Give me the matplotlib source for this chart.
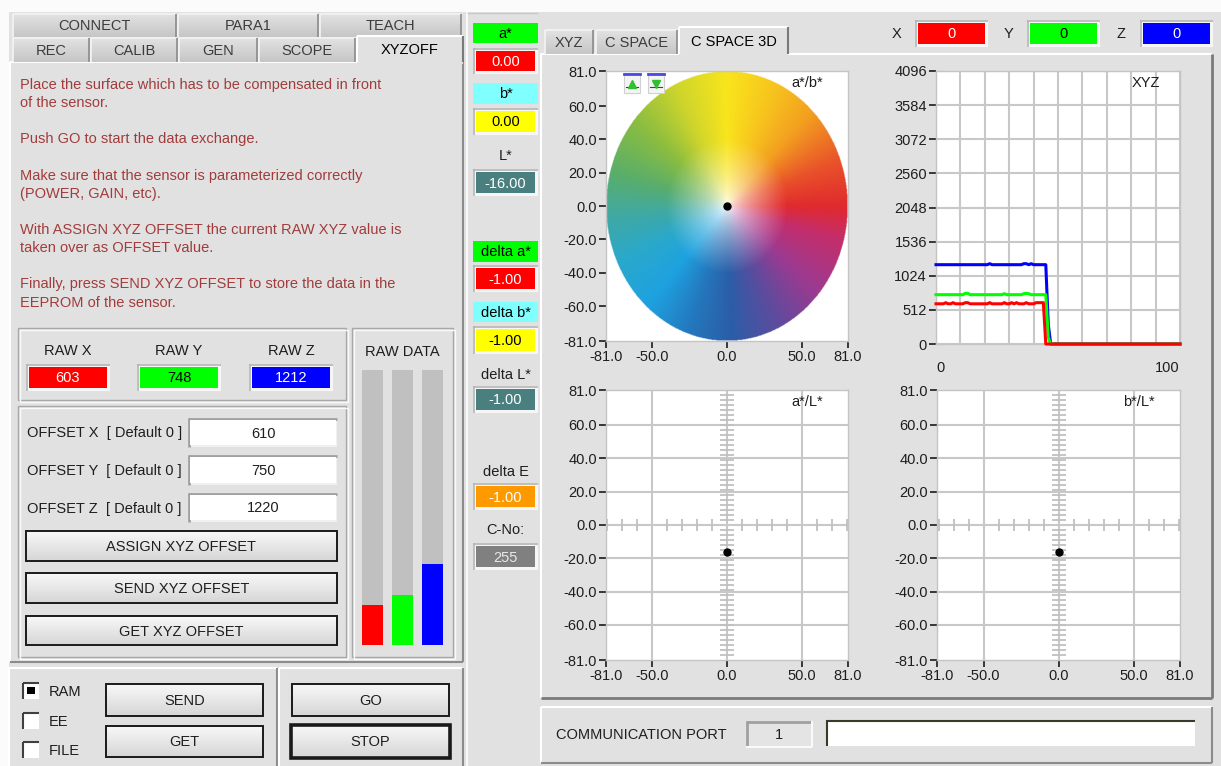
import numpy as np
import matplotlib
matplotlib.use('Agg')
import matplotlib.pyplot as plt
from matplotlib.patches import Rectangle

plt.rcParams['font.family'] = ['Liberation Sans', 'DejaVu Sans']

W, H = 1221, 766
BG = '#e1e1e1'
TXT = '#1e1e1e'
FS = 10.5

# ---- values shown in the window ----
intro_lines = ["Place the surface which has to be compensated in front",
               "of the sensor.",
               "Push GO to start the data exchange.",
               "Make sure that the sensor is parameterized correctly",
               "(POWER, GAIN, etc).",
               "With ASSIGN XYZ OFFSET the current RAW XYZ value is",
               "taken over as OFFSET value.",
               "Finally, press SEND XYZ OFFSET to store the data in the",
               "EEPROM of the sensor."]
raw_labels = ['RAW X', 'RAW Y', 'RAW Z']
raw_values = [603, 748, 1212]
raw_colors = ['#ff0000', '#00ff00', '#0000ff']
offset_labels = ['OFFSET X  [ Default 0 ]', 'OFFSET Y  [ Default 0 ]', 'OFFSET Z  [ Default 0 ]']
offset_values = [610, 750, 1220]
offset_buttons = ['ASSIGN XYZ OFFSET', 'SEND XYZ OFFSET', 'GET XYZ OFFSET']
mem_options = ['RAM', 'EE', 'FILE']
mem_checked = [True, False, False]
tabs_row1 = ['CONNECT', 'PARA1', 'TEACH']
tabs_row2 = ['REC', 'CALIB', 'GEN', 'SCOPE', 'XYZOFF']
plot_tabs = ['XYZ', 'C SPACE', 'C SPACE 3D']

lab_names = ['a*', 'b*', 'L*']
lab_values = [0.00, 0.00, -16.00]
delta_names = ['delta a*', 'delta b*', 'delta L*', 'delta E']
delta_values = [-1.00, -1.00, -1.00, -1.00]
c_no = 255
xyz_names = ['X', 'Y', 'Z']
xyz_now = [0, 0, 0]
comm_port = 1

# XYZ history, samples 0..100
hist_x = [603, 603, 603, 603, 620, 603, 603, 620, 603, 603, 603, 603, 620, 620, 603, 603, 603, 603, 603, 603,
          603, 603, 620, 603, 603, 603, 603, 603, 620, 603, 603, 620, 603, 620, 603, 603, 603, 620, 603, 603,
          603, 620, 620, 620, 620, 0, 0, 0, 0, 0, 0, 0, 0, 0, 0, 0, 0, 0, 0, 0,
          0, 0, 0, 0, 0, 0, 0, 0, 0, 0, 0, 0, 0, 0, 0, 0, 0, 0, 0, 0,
          0, 0, 0, 0, 0, 0, 0, 0, 0, 0, 0, 0, 0, 0, 0, 0, 0, 0, 0, 0, 0]
hist_y = [740, 740, 740, 740, 740, 740, 740, 740, 740, 740, 740, 740, 760, 760, 740, 740, 740, 740, 740, 740,
          740, 740, 740, 740, 740, 740, 740, 740, 755, 740, 740, 740, 740, 740, 740, 740, 755, 760, 755, 740,
          740, 740, 740, 740, 740, 740, 100, 0, 0, 0, 0, 0, 0, 0, 0, 0, 0, 0, 0, 0,
          0, 0, 0, 0, 0, 0, 0, 0, 0, 0, 0, 0, 0, 0, 0, 0, 0, 0, 0, 0,
          0, 0, 0, 0, 0, 0, 0, 0, 0, 0, 0, 0, 0, 0, 0, 0, 0, 0, 0, 0, 0]
hist_z = [1190, 1190, 1190, 1190, 1190, 1190, 1190, 1190, 1190, 1190, 1190, 1190, 1190, 1190, 1190, 1190, 1190, 1190, 1190, 1190,
          1190, 1190, 1205, 1190, 1190, 1190, 1190, 1190, 1190, 1190, 1190, 1190, 1190, 1190, 1190, 1190, 1205, 1205, 1190, 1205,
          1190, 1190, 1190, 1190, 1190, 1190, 300, 0, 0, 0, 0, 0, 0, 0, 0, 0, 0, 0, 0, 0,
          0, 0, 0, 0, 0, 0, 0, 0, 0, 0, 0, 0, 0, 0, 0, 0, 0, 0, 0, 0,
          0, 0, 0, 0, 0, 0, 0, 0, 0, 0, 0, 0, 0, 0, 0, 0, 0, 0, 0, 0, 0]

# current points in the colour planes
pt_ab = (0.0, 0.0)
pt_aL = (0.0, -16.0)
pt_bL = (0.0, -16.0)

fig = plt.figure(figsize=(W / 100, H / 100), dpi=100)
fig.patch.set_facecolor(BG)
ui = fig.add_axes([0, 0, 1, 1])
ui.set_axis_off()


def box(x0, y0, x1, y1, fc, ec='none', lw=1.0, z=1):
    ui.add_patch(Rectangle((x0, y0), x1 - x0, y1 - y0, facecolor=fc, edgecolor=ec, lw=lw, zorder=z))


def hl(x0, x1, y, c, lw=1.0, z=2):
    ui.plot([x0, x1], [y, y], color=c, lw=lw, zorder=z, solid_capstyle='butt')


def vl(x, y0, y1, c, lw=1.0, z=2):
    ui.plot([x, x], [y0, y1], color=c, lw=lw, zorder=z, solid_capstyle='butt')


def txt(x, y, s, ha='center', c=TXT, fs=FS, z=5):
    ui.text(x, y, s, ha=ha, va='center', color=c, fontsize=fs, zorder=z)


def raised(x0, y0, x1, y1, fc=BG):
    box(x0, y0, x1, y1, fc)
    hl(x0, x1, y0, '#ffffff', 1.5)
    vl(x0, y0, y1, '#ffffff', 1.5)
    hl(x0, x1, y1, '#8c8c8c', 1.5)
    vl(x1, y0, y1, '#8c8c8c', 1.5)


def etched(x0, y0, x1, y1):
    ui.add_patch(Rectangle((x0, y0), x1 - x0, y1 - y0, facecolor='none', edgecolor='#a8a8a8', lw=1, zorder=2))
    ui.add_patch(Rectangle((x0 + 1.5, y0 + 1.5), x1 - x0, y1 - y0, facecolor='none', edgecolor='#fafafa', lw=1, zorder=2))


def gradient(x0, y0, x1, y1, top, bottom, z=2):
    t = np.array(matplotlib.colors.to_rgb(top))
    b = np.array(matplotlib.colors.to_rgb(bottom))
    f = np.linspace(0, 1, 32)[:, None, None]
    img = t * (1 - f) + b * f
    ui.imshow(img.reshape(32, 1, 3), extent=[x0, x1, y1, y0], aspect='auto', zorder=z, interpolation='bilinear')


def button(x0, y0, x1, y1, label, lw=1.4):
    gradient(x0, y0, x1, y1, '#f8f8f8', '#d6d6d6')
    ui.add_patch(Rectangle((x0, y0), x1 - x0, y1 - y0, facecolor='none', edgecolor='#1a1a1a', lw=lw, zorder=3))
    txt((x0 + x1) / 2, (y0 + y1) / 2 + 1, label)


def display(x0, y0, x1, y1, fc, s, tc):
    box(x0 - 3, y0 - 3, x1 + 3, y1 + 3, '#f6f6f6', z=2)
    hl(x0 - 3, x1 + 3, y0 - 2.5, '#b4b4b4', 1.2, z=2)
    vl(x0 - 2.5, y0 - 3, y1 + 3, '#b4b4b4', 1.2, z=2)
    box(x0, y0, x1, y1, fc, z=3)
    txt((x0 + x1) / 2, (y0 + y1) / 2 + 1, s, c=tc)


def tab(x0, y0, x1, y1, label, selected):
    if selected:
        box(x0, y0, x1, y1 + 2, BG, z=3)
        hl(x0, x1, y0, '#ffffff', 1.5, z=4)
        vl(x0, y0, y1, '#ffffff', 1.5, z=4)
        vl(x1, y0, y1, '#7a7a7a', 1.5, z=4)
        txt((x0 + x1) / 2, (y0 + y1) / 2 + 1, label, c='#000000', z=5)
    else:
        gradient(x0, y0, x1, y1, '#e2e2e2', '#c6c6c6', z=2)
        hl(x0, x1, y0, '#f4f4f4', 1.2, z=3)
        vl(x0, y0, y1, '#f4f4f4', 1.2, z=3)
        vl(x1, y0, y1, '#8a8a8a', 1.2, z=3)
        txt((x0 + x1) / 2, (y0 + y1) / 2 + 1, label, c='#3c3c3c', z=5)


# white margin on top / left
box(0, 0, W, 12, '#fbfbfb', z=0)
box(0, 0, 9, H, '#fbfbfb', z=0)

# ---------------- left tab control ----------------
raised(10, 62, 463, 662)
row1 = [(13, 176), (178, 318), (320, 461)]
for (a, b), name in zip(row1, tabs_row1):
    tab(a, 14, b, 37, name, False)
row2 = [(13, 89), (91, 177), (179, 257), (259, 355), (357, 463)]
for (a, b), name in zip(row2, tabs_row2):
    if name == 'XYZOFF':
        tab(a, 36, b, 62, name, True)
    else:
        tab(a, 38, b, 62, name, False)

intro_y = [85, 103, 139, 176, 194, 230, 248, 284, 303]
for s, y in zip(intro_lines, intro_y):
    txt(20, y, s, ha='left', c='#a23c3c')

# RAW group
etched(18, 328, 346, 400)
raw_x = [(29, 107), (140, 218), (252, 330)]
for (a, b), lab, v, col in zip(raw_x, raw_labels, raw_values, raw_colors):
    txt((a + b) / 2, 351, lab)
    display(a, 367, b, 388, col, str(v), '#000000' if col == '#00ff00' else '#ffffff')

# OFFSET group
etched(18, 406, 346, 657)
off_y = [(420, 445), (457, 483), (495, 520)]
for (a, b), lab, v in zip(off_y, offset_labels, offset_values):
    txt(27, (a + b) / 2 + 1, lab, ha='left')
    box(188, a - 2, 337, b + 2, '#f0f0f0', z=2)
    hl(188, 337, a - 1.5, '#a0a0a0', 2, z=2)
    vl(188.5, a - 2, b + 2, '#a0a0a0', 2, z=2)
    box(190, a, 336, b, '#ffffff', z=3)
    txt(263, (a + b) / 2 + 1, str(v))
btn_y = [(531, 561), (573, 603), (616, 645)]
for (a, b), lab in zip(btn_y, offset_buttons):
    button(26, a, 337, b, lab)

# RAW DATA group with level bars
etched(352, 328, 453, 657)
txt(402, 352, 'RAW DATA')
bx = fig.add_axes([357 / W, 1 - 645 / H, 91 / W, 275 / H])
bx.set_axis_off()
bx.bar(range(3), [4096] * 3, width=0.69, color='#c0c0c0')
bx.bar(range(3), raw_values, width=0.69, color=raw_colors)
bx.set_xlim(-0.5, 2.5)
bx.set_ylim(0, 4096)

# bottom left panels
raised(9, 668, 277, 770)
raised(279, 668, 463, 770)
chk_y = [683, 713, 742]
for y, lab, on in zip(chk_y, mem_options, mem_checked):
    box(23, y, 39, y + 16, '#ffffff', z=2)
    hl(23, 39, y, '#404040', 1.5, z=3)
    vl(23, y, y + 16, '#404040', 1.5, z=3)
    if on:
        box(27, y + 4, 35, y + 11, '#000000', z=4)
    txt(49, y + 9, lab, ha='left')
button(106, 684, 263, 716, 'SEND')
button(106, 726, 263, 757, 'GET')
button(292, 684, 449, 716, 'GO')
button(291, 725, 450, 758, 'STOP', lw=2.6)

# ---------------- middle column ----------------
vl(467, 12, H, '#ffffff', 1.2)
hl(467, 538, 12.5, '#c8c8c8', 1)


def label_box(y0, y1, s, fc):
    box(473, y0, 538, y1, fc, z=2)
    txt(505.5, (y0 + y1) / 2 + 1, s, c='#000000')


label_box(23, 43, lab_names[0], '#00ff00')
display(476, 51, 535, 71, '#ff0000', '%.2f' % lab_values[0], '#ffffff')
label_box(83, 104, lab_names[1], '#80ffff')
display(476, 111, 535, 132, '#ffff00', '%.2f' % lab_values[1], '#000000')
txt(505.5, 156, lab_names[2])
display(476, 172, 535, 193, '#4a7f7f', '%.2f' % lab_values[2], '#ffffff')

label_box(241, 262, delta_names[0], '#00ff00')
display(476, 268, 535, 289, '#ff0000', '%.2f' % delta_values[0], '#ffffff')
label_box(302, 322, delta_names[1], '#80ffff')
display(476, 329, 535, 351, '#ffff00', '%.2f' % delta_values[1], '#000000')
txt(505.5, 375, delta_names[2])
display(476, 389, 535, 410, '#4a7f7f', '%.2f' % delta_values[2], '#ffffff')
txt(505.5, 472, delta_names[3])
display(476, 486, 535, 507, '#ff9900', '%.2f' % delta_values[3], '#ffffff')
txt(505.5, 530, 'C-No:')
display(476, 546, 535, 567, '#808080', str(c_no), '#e8e8e8')

# ---------------- right panel ----------------
box(541, 54, 1212, 698, BG)
hl(541, 1212, 54, '#ffffff', 1.5)
vl(541, 54, 698, '#ffffff', 1.5)
vl(1212, 54, 698, '#7a7a7a', 2)
hl(541, 1212, 698, '#7a7a7a', 2)
ptab = [(545, 593), (596, 677), (679, 788)]
for (a, b), name in zip(ptab, plot_tabs):
    if name == 'C SPACE 3D':
        tab(a, 27, b, 54, name, True)
    else:
        tab(a, 30, b, 54, name, False)

xyz_lx = [897, 1009, 1121]
xyz_bx = [(918, 985), (1030, 1097), (1143, 1210)]
for lx, (a, b), name, v, col in zip(xyz_lx, xyz_bx, xyz_names, xyz_now, raw_colors):
    txt(lx, 34, name)
    display(a, 23, b, 44, col, str(v), '#000000' if col == '#00ff00' else '#ffffff')

# communication port
raised(541, 707, 1212, 763)
txt(556, 735, 'COMMUNICATION PORT', ha='left')
box(746, 721, 812, 747, '#e4e4e4', z=2)
hl(746, 812, 721.5, '#a0a0a0', 2, z=3)
vl(746.5, 721, 747, '#a0a0a0', 2, z=3)
hl(746, 812, 746.5, '#fafafa', 1.5, z=3)
vl(811.5, 721, 747, '#fafafa', 1.5, z=3)
txt(779, 735, str(comm_port))
box(826, 720, 1195, 746, '#ffffff', z=2)
hl(826, 1195, 720.5, '#3a3a2a', 1.5, z=3)
vl(826.5, 720, 746, '#3a3a2a', 1.5, z=3)

ui.set_xlim(0, W)
ui.set_ylim(H, 0)


# ---------------- plots ----------------
def plot_axes(x0, y0, x1, y1):
    ax = fig.add_axes([x0 / W, 1 - y1 / H, (x1 - x0) / W, (y1 - y0) / H])
    ax.set_facecolor('white')
    for s in ax.spines.values():
        s.set_color('#c4c4c4')
        s.set_linewidth(1)
    ax.tick_params(direction='out', length=5, width=1.3, color='#2a2a2a',
                   labelsize=FS, labelcolor=TXT, pad=1.5)
    return ax


ab_ticks = [-81, -50, 0, 50, 81]
ab_yticks = [81, 60, 40, 20, 0, -20, -40, -60, -81]


def lab_plane(ax, title, pt, grid=True):
    ax.set_xlim(-81, 81)
    ax.set_ylim(-81, 81)
    ax.set_xticks(ab_ticks)
    ax.set_xticklabels(['%.1f' % t for t in ab_ticks])
    ax.set_yticks(ab_yticks)
    ax.set_yticklabels(['%.1f' % t for t in ab_yticks])
    if grid:
        for t in ab_ticks[1:-1]:
            ax.axvline(t, color='#c8c8c8', lw=1.5, zorder=1)
        for t in ab_yticks[1:-1]:
            ax.axhline(t, color='#c8c8c8', lw=1.5, zorder=1)
        minor_x = [t for t in range(-80, 81, 10) if t not in (-50, 0, 50)]
        ax.plot(minor_x, [0] * len(minor_x), ls='none', marker='|', ms=9, mew=1.3, color='#c0c0c0', zorder=2)
        minor_y = [t for t in np.arange(-78, 79, 3) if t != 0]
        ax.plot([0] * len(minor_y), minor_y, ls='none', marker='_', ms=10, mew=1.3, color='#c0c0c0', zorder=2)
    ax.text(0.83, 0.955, title, transform=ax.transAxes, ha='center', va='center', fontsize=FS, color=TXT, zorder=6)
    ax.plot([pt[0]], [pt[1]], 'o', color='black', ms=5, zorder=7)


# a*/b* with colour wheel
ax1 = plot_axes(606, 71, 848, 341)
lab_plane(ax1, 'a*/b*', pt_ab, grid=False)
n = 500
gx, gy = np.meshgrid(np.linspace(-81, 81, n), np.linspace(-81, 81, n))
rr = np.hypot(gx, gy) / 81
ang = np.degrees(np.arctan2(gy, gx)) % 360
hue_deg = [0, 20, 45, 65, 90, 115, 140, 165, 185, 205, 228, 252, 272, 295, 320, 345, 360]
hue_col = ['#e02a2e', '#e9522a', '#f3a020', '#f7c21e', '#f9e51c', '#cfd52c', '#8bbd40', '#5aae6a', '#3fa9a4',
           '#2aa8cc', '#1ea2e0', '#2477bd', '#2b5ea8', '#5c4c9e', '#9c3a90', '#c42e6c', '#e02a2e']
rgb = np.array([matplotlib.colors.to_rgb(c) for c in hue_col])
img = np.zeros((n, n, 4))
sat = np.clip(rr / 0.5, 0, 1) ** 0.65
for k in range(3):
    ch = np.interp(ang, hue_deg, rgb[:, k])
    img[..., k] = 1 - sat * (1 - ch)
img[..., 3] = (rr <= 1.0).astype(float)
ax1.imshow(img, extent=[-81, 81, -81, 81], origin='lower', aspect='auto', zorder=1, interpolation='bilinear')
# small zoom buttons in the corner
for cx, mk in [(-63.5, '^'), (-47.5, 'v')]:
    ax1.add_patch(Rectangle((cx - 5.5, 68), 11, 12, transform=ax1.transData, facecolor='#f4f4f4',
                            edgecolor='#d0d0d0', lw=0.8, zorder=8))
    ax1.plot([cx - 5.5, cx + 5.5], [79.5, 79.5], color='#4a4ae0', lw=2, zorder=9)
    ax1.plot([cx - 4, cx + 4], [71.5, 71.5], color='#404040', lw=0.8, zorder=9)
    ax1.plot([cx], [73.5], marker=mk, color='#30c030', ms=6, zorder=10)

# XYZ history
ax2 = plot_axes(936, 71, 1180, 344)
samples = np.arange(len(hist_x))
ax2.set_xlim(0, 100)
ax2.set_ylim(0, 4096)
ax2.set_yticks(range(0, 4097, 512))
ax2.set_xticks([0, 100])
ax2.set_xticks(range(0, 101, 10), minor=True)
ax2.grid(True, which='both', color='#c8c8c8', lw=1.5)
ax2.tick_params(axis='x', which='both', length=0, pad=12)
ax2.tick_params(axis='y', which='minor', length=0)
ax2.set_axisbelow(True)
ax2.plot(samples, hist_z, color='#0000ff', lw=2.2, zorder=3, clip_on=False)
ax2.plot(samples, hist_y, color='#00ff00', lw=2.2, zorder=4, clip_on=False)
ax2.plot(samples, hist_x, color='#ff0000', lw=2.2, zorder=5, clip_on=False)
xl = ax2.get_xticklabels()
xl[0].set_ha('left')
xl[-1].set_ha('right')
ax2.text(0.86, 0.955, 'XYZ', transform=ax2.transAxes, ha='center', va='center', fontsize=FS, color=TXT)

# a*/L* and b*/L*
ax3 = plot_axes(606, 390, 848, 660)
lab_plane(ax3, 'a*/L*', pt_aL)
ax4 = plot_axes(937, 390, 1180, 660)
lab_plane(ax4, 'b*/L*', pt_bL)

fig.savefig('out.png', dpi=100, facecolor=fig.get_facecolor())
